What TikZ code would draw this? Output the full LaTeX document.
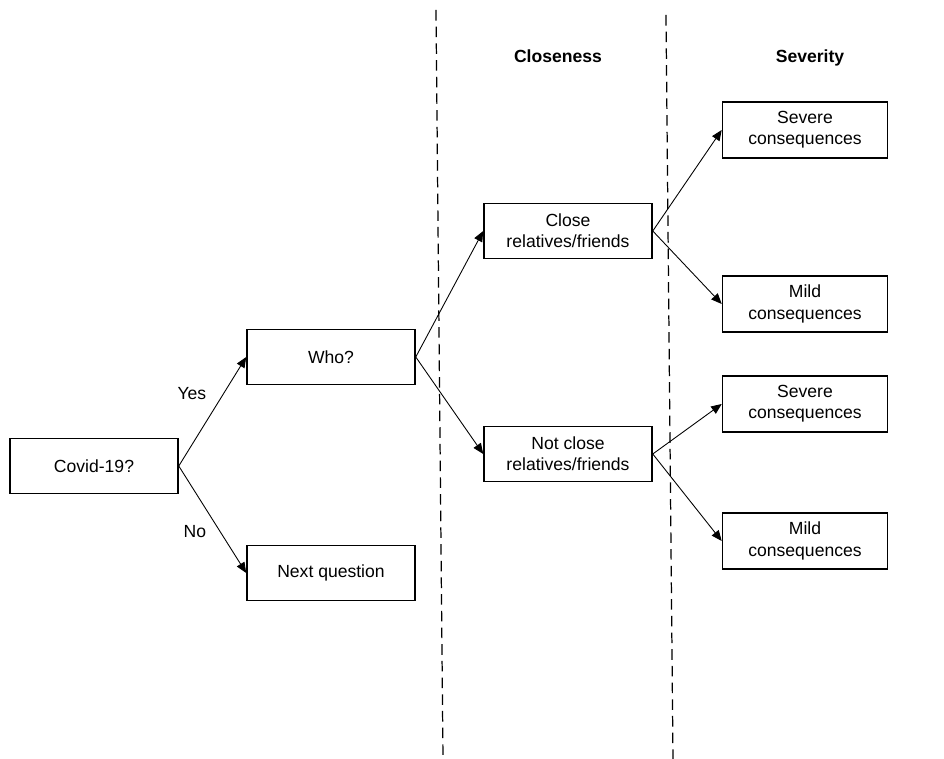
\documentclass[tikz,border=0pt]{standalone}
\usepackage{fontspec}
\setmainfont{Liberation Sans}
\usetikzlibrary{arrows.meta}
\tikzstyle{box} = [draw, line width=0.9pt, minimum width=3.36cm, minimum height=1.1cm,
        align=center, inner sep=2pt]
\tikzstyle{outcome} = [box, minimum width=3.3cm, minimum height=1.12cm]
\tikzstyle{branch} = [-{Triangle[length=6pt,width=5pt]}, line width=0.5pt]
\tikzstyle{divider} = [dash pattern=on 6pt off 3.5pt, line width=0.7pt]
\tikzstyle{heading} = [font={\bfseries\fontsize{10}{12}\selectfont}, anchor=base]
\begin{document}
\begin{tikzpicture}[x=0.02cm, y=-0.02cm, font={\fontsize{10}{12}\selectfont}]
                \useasboundingbox (0,0) rectangle (944,759);
                \draw[divider] (436,10) -- (443,759);
                \draw[divider] (666,15) -- (673,759);
                \node[heading] (closeness) at (558,63) {Closeness};
                \node[heading] (severity) at (810,63) {Severity};
                \draw (94,466)
                    node [box] (covid) {Covid-19?}
                    +(237,-109)
                    node [box] (who) {Who?}
                    +(237,107)
                    node [box] (next) {Next question}
                    +(474,-235)
                    node [box] (close) {Close\\relatives/friends}
                    +(474,-12)
                    node [box] (notclose) {Not close\\relatives/friends}
                    +(711,-336)
                    node [outcome] (severe1) {Severe\\consequences}
                    +(711,-162)
                    node [outcome] (mild1) {Mild\\consequences}
                    +(711,-62)
                    node [outcome] (severe2) {Severe\\consequences}
                    +(711,75)
                    node [outcome] (mild2) {Mild\\consequences};
                \draw[branch] (covid.east) -- node[above left, yshift=3pt] {Yes} (who.west);
                \draw[branch] (covid.east) -- node[below left] {No} (next.west);
                \draw[branch] (who.east) -- (close.west);
                \draw[branch] (who.east) -- (notclose.west);
                \draw[branch] (close.east) -- (severe1.west);
                \draw[branch] (close.east) -- (mild1.west);
                \draw[branch] (notclose.east) -- (severe2.west);
                \draw[branch] (notclose.east) -- (mild2.west);
            \end{tikzpicture}
\end{document}
